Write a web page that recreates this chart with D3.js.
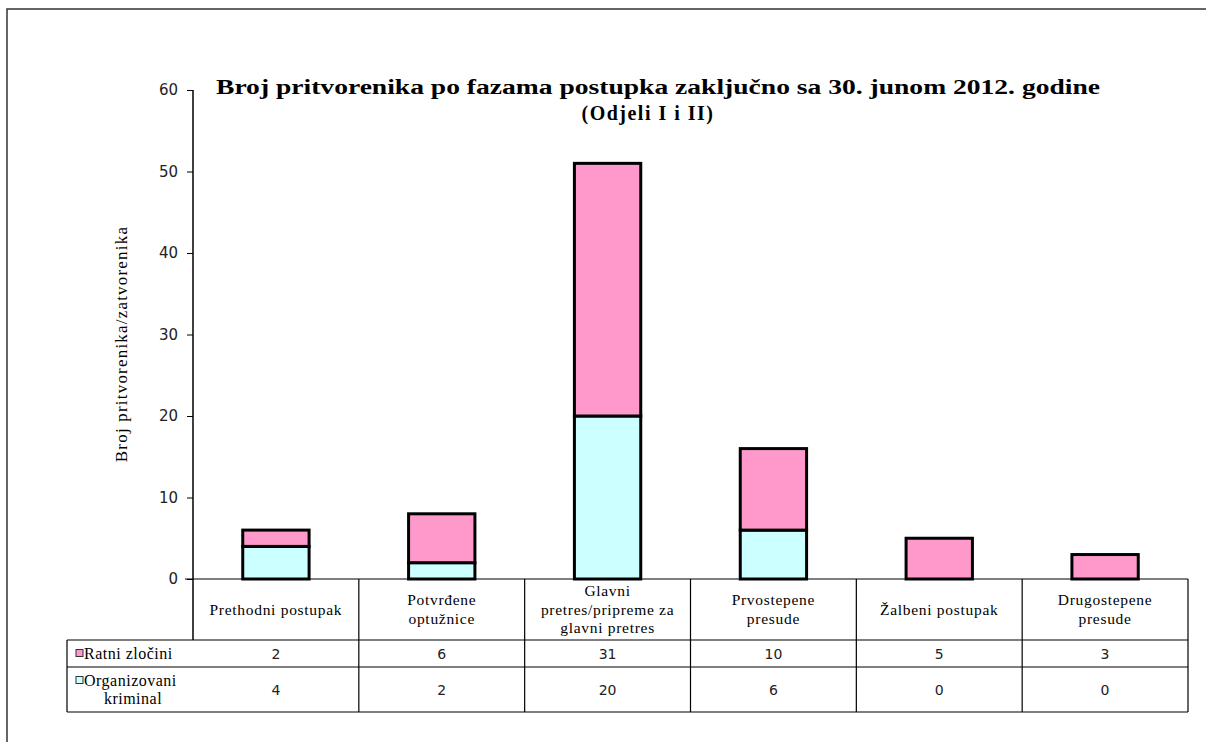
<!DOCTYPE html>
<html>
<head>
<meta charset="utf-8">
<script src="https://cdn.jsdelivr.net/npm/d3@7"></script>
<style>
    body { margin: 0; background: #fff; }
    svg { display: block; }
</style>
</head>
<body>
<svg id="chart" width="1206" height="742"></svg>
<script>
'use strict';

var categories = [
    ['Prethodni postupak'],
    ['Potvrđene', 'optužnice'],
    ['Glavni', 'pretres/pripreme za', 'glavni pretres'],
    ['Prvostepene', 'presude'],
    ['Žalbeni postupak'],
    ['Drugostepene', 'presude']
];
var ratniZlocini = [2, 6, 31, 10, 5, 3];
var organizovaniKriminal = [4, 2, 20, 6, 0, 0];
var yTicks = [0, 10, 20, 30, 40, 50, 60];

var series = [
    {name: ['Organizovani', 'kriminal'], values: organizovaniKriminal, color: '#ccffff'},
    {name: ['Ratni zločini'], values: ratniZlocini, color: '#ff99cc'}
];

var svg = d3.select('#chart');
var serif = "'Liberation Serif', 'Times New Roman', serif";
var sans = "'DejaVu Sans', Verdana, sans-serif";

var plotLeft = 193;
var plotRight = 1188;
var plotTop = 90;
var plotBottom = 579;
var catRowBottom = 640;
var rowBottoms = [667, 712];
var legendLeft = 67;

// outer frame
svg.append('rect')
    .attr('x', 7).attr('y', 9)
    .attr('width', 1240).attr('height', 780)
    .attr('fill', 'none')
    .attr('stroke', '#333')
    .attr('stroke-width', 1.5);

var x = d3.scaleBand()
    .domain(d3.range(categories.length))
    .range([plotLeft, plotRight])
    .paddingInner(0)
    .paddingOuter(0);

var y = d3.scaleLinear()
    .domain([0, 60])
    .range([plotBottom, plotTop]);

var stackData = categories.map(function (c, i) {
    return {organizovani: organizovaniKriminal[i], ratni: ratniZlocini[i]};
});
var stack = d3.stack().keys(['organizovani', 'ratni'])(stackData);

// y axis
var yAxis = d3.axisLeft(y).tickValues(yTicks).tickSize(6).tickPadding(9);
var gy = svg.append('g')
    .attr('transform', 'translate(' + plotLeft + ',0)')
    .call(yAxis);
gy.select('.domain').remove();
gy.selectAll('.tick line').attr('stroke', '#000');
gy.selectAll('.tick text')
    .style('font-family', sans)
    .style('font-size', '15px')
    .attr('fill', '#222');

svg.append('line')
    .attr('x1', plotLeft).attr('x2', plotLeft)
    .attr('y1', plotTop).attr('y2', catRowBottom)
    .attr('stroke', '#000').attr('stroke-width', 1.5);

// bars
var barW = x.bandwidth() * 0.4;
stack.forEach(function (layer, k) {
    svg.append('g')
        .selectAll('rect')
        .data(layer.filter(function (d) { return d[1] - d[0] > 0; }))
        .enter()
        .append('rect')
        .attr('x', function (d) {
            var i = stackData.indexOf(d.data);
            return x(i) + (x.bandwidth() - barW) / 2;
        })
        .attr('y', function (d) { return y(d[1]); })
        .attr('width', barW)
        .attr('height', function (d) { return y(d[0]) - y(d[1]); })
        .attr('fill', series[k].color)
        .attr('stroke', '#000')
        .attr('stroke-width', 3);
});

// data table
var grid = svg.append('g').attr('stroke', '#000').attr('stroke-width', 1.2);
grid.append('line')
    .attr('x1', plotLeft - 8).attr('x2', plotRight)
    .attr('y1', plotBottom).attr('y2', plotBottom);
[catRowBottom].concat(rowBottoms).forEach(function (yy) {
    grid.append('line')
        .attr('x1', legendLeft).attr('x2', plotRight)
        .attr('y1', yy).attr('y2', yy);
});
grid.append('line')
    .attr('x1', legendLeft).attr('x2', legendLeft)
    .attr('y1', catRowBottom).attr('y2', rowBottoms[1]);
d3.range(1, categories.length + 1).forEach(function (i) {
    var xx = i < categories.length ? x(i) : plotRight;
    grid.append('line')
        .attr('x1', xx).attr('x2', xx)
        .attr('y1', plotBottom).attr('y2', rowBottoms[1]);
});

// category labels
categories.forEach(function (lines, i) {
    var cx = x(i) + x.bandwidth() / 2;
    var mid = (plotBottom + catRowBottom) / 2;
    var lh = 18.5;
    var t = svg.append('text')
        .style('font-family', serif)
        .style('font-size', '15.5px')
        .style('letter-spacing', '0.7px')
        .attr('text-anchor', 'middle');
    lines.forEach(function (ln, j) {
        t.append('tspan')
            .attr('x', cx)
            .attr('y', mid + (j - (lines.length - 1) / 2) * lh + 5)
            .text(ln);
    });
});

// series rows
var rowTops = [catRowBottom, rowBottoms[0]];
var rowOrder = [series[1], series[0]];
rowOrder.forEach(function (s, r) {
    var mid = (rowTops[r] + rowBottoms[r]) / 2;
    s.values.forEach(function (v, i) {
        svg.append('text')
            .attr('x', x(i) + x.bandwidth() / 2)
            .attr('y', mid + 5)
            .attr('text-anchor', 'middle')
            .style('font-family', sans)
            .style('font-size', '14px')
            .attr('fill', '#222')
            .text(v);
    });
    var lines = s.name;
    var firstY = mid - (lines.length - 1) / 2 * 18;
    svg.append('rect')
        .attr('x', legendLeft + 9)
        .attr('y', firstY - 4)
        .attr('width', 7).attr('height', 7)
        .attr('fill', s.color)
        .attr('stroke', '#333')
        .attr('stroke-width', 1);
    lines.forEach(function (ln, j) {
        svg.append('text')
            .style('font-family', serif)
            .style('font-size', '16px')
            .style('letter-spacing', '0.5px')
            .attr('text-anchor', j === 0 ? 'start' : 'middle')
            .attr('x', j === 0 ? legendLeft + 17 : 133)
            .attr('y', firstY + j * 18 + 5)
            .text(ln);
    });
});

// y axis title
svg.append('text')
    .attr('transform', 'translate(127,344) rotate(-90)')
    .attr('text-anchor', 'middle')
    .style('font-family', serif)
    .style('font-size', '17px')
    .style('letter-spacing', '1.2px')
    .text('Broj pritvorenika/zatvorenika');

// chart title
svg.append('text')
    .attr('x', 658).attr('y', 94)
    .attr('text-anchor', 'middle')
    .style('font-family', serif)
    .style('font-weight', 'bold')
    .style('font-size', '20px')
    .attr('textLength', 884)
    .attr('lengthAdjust', 'spacingAndGlyphs')
    .text('Broj pritvorenika po fazama postupka zaključno sa 30. junom 2012. godine');
svg.append('text')
    .attr('x', 648).attr('y', 120)
    .attr('text-anchor', 'middle')
    .style('font-family', serif)
    .style('font-weight', 'bold')
    .style('font-size', '20px')
    .style('letter-spacing', '1.5px')
    .text('(Odjeli I i II)');
</script>
</body>
</html>
